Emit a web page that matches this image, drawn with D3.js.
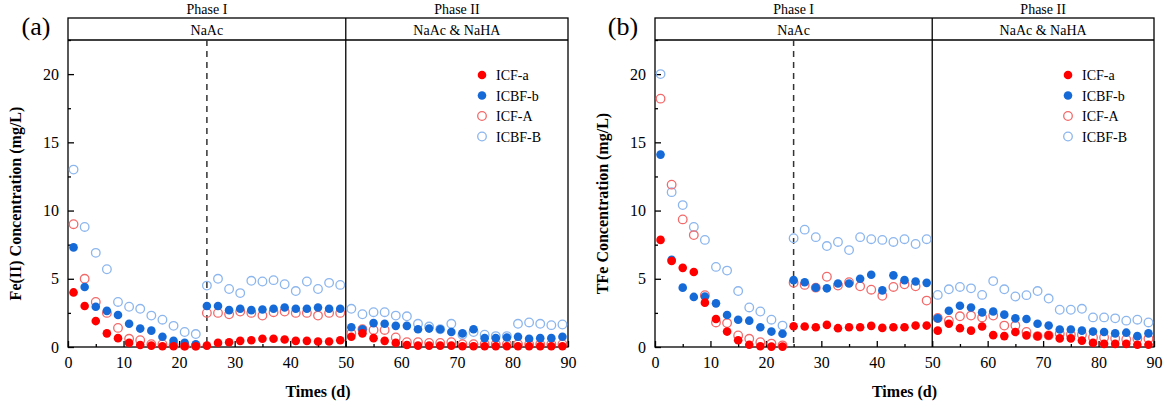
<!DOCTYPE html>
<html><head><meta charset="utf-8">
<script src="https://cdn.jsdelivr.net/npm/d3@7"></script>
<style>
body{margin:0;background:#fff}
text{font-family:"Liberation Serif","Times New Roman",serif;fill:#000}
</style></head>
<body><svg width="1170" height="409"></svg>
<script>
const days1 = [1,3,5,7,9,11,13,15,17,19,21,23];
const days2 = [25,27,29,31,33,35,37,39,41,43,45,47,49];
const days3 = [51,53,55,57,59,61,63,65,67,69,71,73,75,77,79,81,83,85,87,89];
const days = days1.concat(days2, days3);

const seriesNames = ["ICF-a","ICBF-b","ICF-A","ICBF-B"];

// panel (a) Fe(II)
const feICFa = [4.0,3.0,1.9,1.0,0.65,0.3,0.15,0.1,0.05,0.05,0.05,0.05,
  0.1,0.3,0.35,0.45,0.5,0.6,0.6,0.55,0.45,0.45,0.4,0.4,0.5,
  0.75,1.0,0.65,0.45,0.3,0.15,0.1,0.1,0.1,0.1,0.05,0.05,0.05,0.05,0.05,0.05,0.05,0.05,0.05,0.05];
const feICBFb = [7.3,4.4,2.95,2.65,2.35,1.7,1.35,1.2,0.75,0.45,0.3,0.2,
  3.0,3.0,2.7,2.8,2.7,2.75,2.8,2.9,2.8,2.8,2.9,2.8,2.8,
  1.45,1.3,1.75,1.7,1.55,1.55,1.3,1.35,1.3,1.1,1.0,1.3,0.65,0.65,0.7,0.75,0.6,0.65,0.65,0.75];
const feICFA = [9.0,5.0,3.3,2.5,1.4,0.6,0.5,0.2,0.2,0.15,0.1,0.1,
  2.5,2.5,2.4,2.6,2.5,2.3,2.55,2.6,2.5,2.5,2.3,2.5,2.5,
  1.0,1.3,1.25,1.25,0.7,0.35,0.35,0.3,0.3,0.35,0.2,0.2,0.2,0.2,0.2,0.2,0.2,0.2,0.2,0.2];
const feICBFB = [13.0,8.8,6.9,5.7,3.3,2.95,2.8,2.3,2.0,1.55,1.1,0.95,
  4.5,5.0,4.25,3.95,4.85,4.8,4.9,4.6,4.1,4.8,4.25,4.7,4.55,
  2.8,2.4,2.55,2.55,2.3,2.25,1.7,1.5,1.3,1.7,0.9,1.1,0.9,0.8,0.8,1.7,1.8,1.7,1.6,1.65];

// panel (b) TFe
const tfICFa = [7.85,6.3,5.8,5.5,3.25,2.05,1.13,0.5,0.17,0.05,0.03,0.03,
  1.52,1.5,1.45,1.62,1.38,1.45,1.45,1.55,1.4,1.45,1.45,1.57,1.57,
  1.2,1.7,1.38,1.2,1.5,0.87,0.8,1.1,0.85,0.8,0.85,0.63,0.63,0.47,0.3,0.23,0.23,0.23,0.17,0.17];
const tfICBFb = [14.1,6.4,4.35,3.67,3.7,3.2,2.35,2.0,1.93,1.45,1.13,0.97,
  4.9,4.75,4.35,4.3,4.65,4.65,5.0,5.3,4.15,5.25,4.9,4.8,4.7,
  2.1,2.66,3.02,2.9,2.54,2.6,2.37,2.1,2.05,1.7,1.57,1.28,1.28,1.2,1.13,1.1,1.0,1.05,0.8,1.0];
const tfICFA = [18.2,11.9,9.35,8.2,3.8,1.8,1.75,0.85,0.6,0.35,0.25,0.12,
  4.7,4.55,4.35,5.15,4.5,4.75,4.45,4.2,3.75,4.4,4.6,4.45,3.4,
  2.12,1.93,2.25,2.3,2.17,2.3,1.57,1.57,1.1,0.8,0.85,0.97,0.9,0.9,0.7,0.7,0.63,0.55,0.6,0.6];
const tfICBFB = [20.0,11.35,10.4,8.8,7.85,5.87,5.6,4.1,2.9,2.6,2.0,1.57,
  7.97,8.6,8.05,7.4,7.7,7.1,8.05,7.9,7.85,7.7,7.9,7.55,7.9,
  3.82,4.23,4.4,4.3,3.82,4.83,4.23,3.7,3.8,4.1,3.55,2.73,2.73,2.8,2.17,2.17,2.1,1.93,2.0,1.8];

const xTicks = [0,10,20,30,40,50,60,70,80,90];
const yTicks = [0,5,10,15,20];

const styles = [
  {fill:"#fe0000", stroke:"none"},
  {fill:"#166ad8", stroke:"none"},
  {fill:"none", stroke:"#f36a6a"},
  {fill:"none", stroke:"#8cb6ee"}
];

const svg = d3.select("svg");

function panel(left, right, label, yLabel, data) {
  const top = 18, mid = 40, bottom = 347;
  const x = d3.scaleLinear().domain([0,90]).range([left,right]);
  const y = d3.scaleLinear().domain([0,22.5]).range([bottom,mid]);
  const g = svg.append("g");

  // header boxes
  g.append("rect").attr("x",left).attr("y",top).attr("width",right-left).attr("height",bottom-top)
    .attr("fill","none").attr("stroke","#000").attr("stroke-width",1.3);
  g.append("line").attr("x1",left).attr("x2",right).attr("y1",mid).attr("y2",mid).attr("stroke","#000").attr("stroke-width",1.3);
  g.append("line").attr("x1",x(50)).attr("x2",x(50)).attr("y1",top).attr("y2",bottom).attr("stroke","#000").attr("stroke-width",1.3);
  g.append("line").attr("x1",x(25)).attr("x2",x(25)).attr("y1",mid).attr("y2",bottom)
    .attr("stroke","#333").attr("stroke-width",1.5).attr("stroke-dasharray","6,5");
  g.append("text").attr("x",x(25)).attr("y",14).attr("text-anchor","middle").attr("font-size",14).text("Phase I");
  g.append("text").attr("x",x(70)).attr("y",14).attr("text-anchor","middle").attr("font-size",14).text("Phase II");
  g.append("text").attr("x",x(25)).attr("y",35).attr("text-anchor","middle").attr("font-size",14).text("NaAc");
  g.append("text").attr("x",x(70)).attr("y",35).attr("text-anchor","middle").attr("font-size",14).text("NaAc & NaHA");
  g.append("text").attr("x",left-32).attr("y",35).attr("text-anchor","middle").attr("font-size",26).text(label);

  // axes
  g.append("g").attr("transform",`translate(0,${bottom})`)
    .call(d3.axisBottom(x).tickValues(xTicks).tickSize(-6).tickPadding(10));
  g.append("g").attr("transform",`translate(0,${bottom})`)
    .call(d3.axisBottom(x).tickValues(d3.range(5,90,10)).tickSize(-3).tickFormat(""));
  g.append("g").attr("transform",`translate(${left},0)`)
    .call(d3.axisLeft(y).tickValues(yTicks).tickSize(-6).tickPadding(9));
  g.append("g").attr("transform",`translate(${left},0)`)
    .call(d3.axisLeft(y).tickValues([2.5,7.5,12.5,17.5,22.5]).tickSize(-3).tickFormat(""));
  g.selectAll(".domain").remove();
  g.selectAll(".tick line").attr("stroke","#000").attr("stroke-width",1.3);
  g.selectAll(".tick text").attr("font-size",16).attr("font-family","Liberation Serif");

  g.append("text").attr("x",(left+right)/2).attr("y",397).attr("text-anchor","middle")
    .attr("font-size",16).attr("font-weight","bold").text("Times (d)");
  g.append("text").attr("transform",`translate(${left-47},${(mid+bottom)/2+10}) rotate(-90)`)
    .attr("text-anchor","middle").attr("font-size",16).attr("font-weight","bold").text(yLabel);

  // points: draw in order so later series sit on top
  [3,2,1,0].forEach(k => {
    g.append("g").selectAll("circle").data(data[k].map((v,i)=>[days[i],v])).enter()
      .append("circle")
      .attr("cx", d => x(d[0])).attr("cy", d => y(d[1])).attr("r",4.3)
      .attr("fill",styles[k].fill).attr("stroke",styles[k].stroke).attr("stroke-width",1.3);
  });

  // legend
  const lg = g.append("g").attr("transform",`translate(${right-86},75)`);
  seriesNames.forEach((n,k) => {
    lg.append("circle").attr("cx",0).attr("cy",k*20.5).attr("r",4.3)
      .attr("fill",styles[k].fill).attr("stroke",styles[k].stroke).attr("stroke-width",1.3);
    lg.append("text").attr("x",14).attr("y",k*20.5+5).attr("font-size",14).text(n);
  });
}

panel(68, 568, "(a)", "Fe(II) Concentration (mg/L)", [feICFa, feICBFb, feICFA, feICBFB]);
panel(655, 1154, "(b)", "TFe Concentration (mg/L)", [tfICFa, tfICBFb, tfICFA, tfICBFB]);
</script></body></html>
